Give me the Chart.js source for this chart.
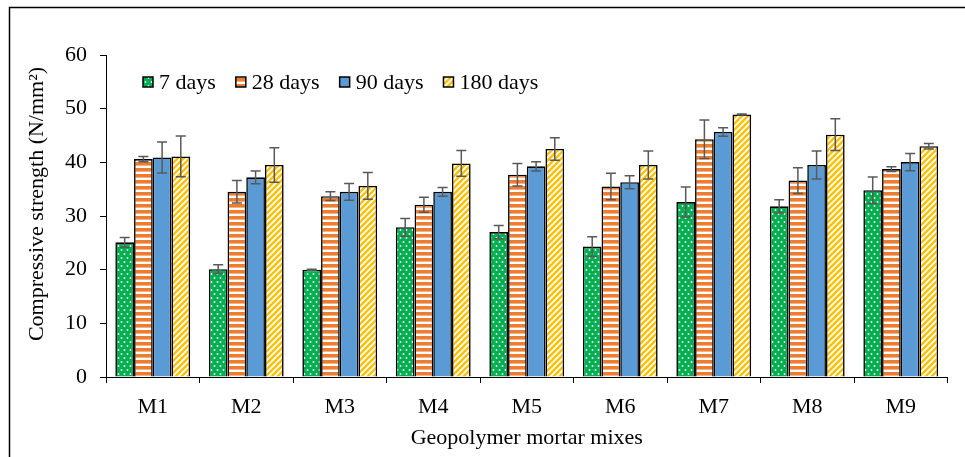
<!DOCTYPE html>
<html>
<head>
<meta charset="utf-8">
<script src="https://cdn.jsdelivr.net/npm/chart.js@4.4.1/dist/chart.umd.min.js"></script>
<style>
  html, body { margin: 0; padding: 0; background: #fff; }
  #wrap { width: 965px; height: 457px; position: relative; }
</style>
</head>
<body>
<div id="wrap"><canvas id="chart" width="965" height="457"></canvas></div>
<script>
// Mix designs on the x axis
const mixes = ['M1', 'M2', 'M3', 'M4', 'M5', 'M6', 'M7', 'M8', 'M9'];
// Curing ages (series)
const seriesNames = ['7 days', '28 days', '90 days', '180 days'];

// Mean compressive strength (N/mm²) per curing age
const days7   = [25.1, 20.1, 20.0, 27.9, 27.0, 24.3, 32.6, 31.8, 34.8];
const days28  = [40.6, 34.5, 33.7, 32.1, 37.7, 35.5, 44.3, 36.6, 38.75];
const days90  = [40.9, 37.2, 34.5, 34.5, 39.25, 36.3, 45.65, 39.5, 40.05];
const days180 = [41.1, 39.5, 35.6, 39.8, 42.5, 39.5, 48.9, 45.15, 43.0];

// Standard deviation (error bar half-length)
const err7   = [0.9, 0.8, 0.1, 1.65, 1.25, 1.85, 2.8, 1.25, 2.45];
const err28  = [0.5, 2.1, 0.8, 1.4, 2.1, 2.45, 3.6, 2.4, 0.45];
const err90  = [2.9, 1.2, 1.55, 0.8, 0.85, 1.2, 0.8, 2.6, 1.6];
const err180 = [3.8, 3.2, 2.5, 2.4, 2.1, 2.6, 0.1, 2.95, 0.5];

// Value axis ticks
const yTicks = [0, 10, 20, 30, 40, 50, 60];

const xTitle = 'Geopolymer mortar mixes';
const yTitle = 'Compressive strength (N/mm²)';

const FONT = 'Liberation Serif';
const canvas = document.getElementById('chart');
const ctx = canvas.getContext('2d');

// ---- fill patterns ----
function tile(w, h, paint) {
  const c = document.createElement('canvas');
  c.width = w; c.height = h;
  paint(c.getContext('2d'), w, h);
  return ctx.createPattern(c, 'repeat');
}
const greenDots = tile(6, 8, (g, w, h) => {
  g.fillStyle = '#00B050'; g.fillRect(0, 0, w, h);
  g.fillStyle = '#ffffff';
  g.beginPath(); g.arc(1.5, 2, 0.9, 0, Math.PI * 2); g.fill();
  g.beginPath(); g.arc(4.5, 6, 0.9, 0, Math.PI * 2); g.fill();
});
const orangeStripes = tile(6, 6, (g, w, h) => {
  g.fillStyle = '#ffffff'; g.fillRect(0, 0, w, h);
  g.fillStyle = '#ED7D31'; g.fillRect(0, 0, w, 3);
  g.fillStyle = '#F4B183'; g.fillRect(0, 3, w, 1);
});
const blueFill = '#5B9BD5';
const yellowDiag = tile(6, 6, (g, w, h) => {
  g.fillStyle = '#ffffff'; g.fillRect(0, 0, w, h);
  g.strokeStyle = '#FFC000'; g.lineWidth = 2.4;
  [[-6, 6, 6, -6], [0, 6, 6, 0], [0, 12, 12, 0]].forEach(([a, b, c2, d]) => {
    g.beginPath(); g.moveTo(a, b); g.lineTo(c2, d); g.stroke();
  });
});

const fills = [greenDots, orangeStripes, blueFill, yellowDiag];
const values = [days7, days28, days90, days180];
const errors = [err7, err28, err90, err180];

const datasets = seriesNames.map((name, i) => ({
  label: name,
  data: values[i],
  errors: errors[i],
  backgroundColor: fills[i],
  borderColor: '#000000',
  borderWidth: 1.6,
  borderSkipped: 'bottom',
  categoryPercentage: 0.8,
  barPercentage: 1.0
}));

// White page with frame lines on the left and top
const framePlugin = {
  id: 'frame',
  beforeDraw(chart) {
    const c = chart.ctx;
    c.save();
    c.fillStyle = '#ffffff';
    c.fillRect(0, 0, chart.width, chart.height);
    c.restore();
  },
  afterDraw(chart) {
    const c = chart.ctx;
    c.save();
    c.strokeStyle = '#000000';
    c.lineWidth = 1.5;
    c.beginPath();
    c.moveTo(9.5, chart.height);
    c.lineTo(9.5, 7.5);
    c.lineTo(chart.width, 7.5);
    c.stroke();
    c.restore();
  }
};

// Error bars from each dataset's errors array
const errorBarPlugin = {
  id: 'errorBars',
  afterDatasetsDraw(chart) {
    const c = chart.ctx;
    const y = chart.scales.y;
    c.save();
    c.strokeStyle = '#595959';
    c.lineWidth = 1.5;
    chart.data.datasets.forEach((ds, i) => {
      chart.getDatasetMeta(i).data.forEach((bar, j) => {
        const v = ds.data[j], e = ds.errors[j];
        const top = y.getPixelForValue(v + e);
        const bot = y.getPixelForValue(v - e);
        const x = bar.x, cap = 5;
        c.beginPath();
        c.moveTo(x, top); c.lineTo(x, bot);
        c.moveTo(x - cap, top); c.lineTo(x + cap, top);
        c.moveTo(x - cap, bot); c.lineTo(x + cap, bot);
        c.stroke();
      });
    });
    c.restore();
  }
};

// Legend placed inside the plot, top-left
const insideLegend = {
  id: 'insideLegend',
  afterDraw(chart) {
    const c = chart.ctx;
    const area = chart.chartArea;
    c.save();
    c.font = '22px "' + FONT + '"';
    c.textBaseline = 'middle';
    c.textAlign = 'left';
    let x = area.left + 37;
    const cy = area.top + 27;
    chart.data.datasets.forEach(ds => {
      c.fillStyle = ds.backgroundColor;
      c.fillRect(x, cy - 5, 10, 10);
      c.strokeStyle = '#000000';
      c.lineWidth = 1.5;
      c.strokeRect(x, cy - 5, 10, 10);
      c.fillStyle = '#000000';
      c.fillText(ds.label, x + 16, cy + 1);
      x += 16 + c.measureText(ds.label).width + 20;
    });
    c.restore();
  }
};

// Rotated value-axis title
const yTitlePlugin = {
  id: 'yTitle',
  afterDraw(chart) {
    const c = chart.ctx;
    c.save();
    c.font = '22px "' + FONT + '"';
    c.fillStyle = '#000000';
    c.textAlign = 'center';
    c.textBaseline = 'middle';
    c.translate(37, chart.chartArea.top + 149);
    c.rotate(-Math.PI / 2);
    c.fillText(yTitle, 0, 0);
    c.restore();
  }
};

new Chart(canvas, {
  type: 'bar',
  data: { labels: mixes, datasets },
  plugins: [framePlugin, errorBarPlugin, insideLegend, yTitlePlugin],
  options: {
    responsive: false,
    devicePixelRatio: 1,
    animation: false,
    layout: { padding: { left: 0, right: 17.5, top: 55, bottom: 0 } },
    plugins: { legend: { display: false }, tooltip: { enabled: false } },
    scales: {
      x: {
        grid: { offset: true, drawOnChartArea: false, drawTicks: true, tickLength: 6, color: '#000000', lineWidth: 1 },
        border: { display: true, color: '#000000', width: 1 },
        ticks: { color: '#000000', font: { family: FONT, size: 22 }, padding: 11, maxRotation: 0 },
        title: { display: true, text: xTitle, color: '#000000', font: { family: FONT, size: 22 }, padding: { top: 0, bottom: 6 } },
        afterFit(scale) { scale.height = 80; }
      },
      y: {
        min: yTicks[0],
        max: yTicks[yTicks.length - 1],
        afterBuildTicks(scale) { scale.ticks = yTicks.map(v => ({ value: v })); },
        grid: { drawOnChartArea: false, drawTicks: true, tickLength: 6, color: '#000000', lineWidth: 1 },
        border: { display: true, color: '#000000', width: 1 },
        ticks: { color: '#000000', font: { family: FONT, size: 22 }, padding: 13 },
        afterFit(scale) { scale.width = 106; }
      }
    }
  }
});
</script>
</body>
</html>
